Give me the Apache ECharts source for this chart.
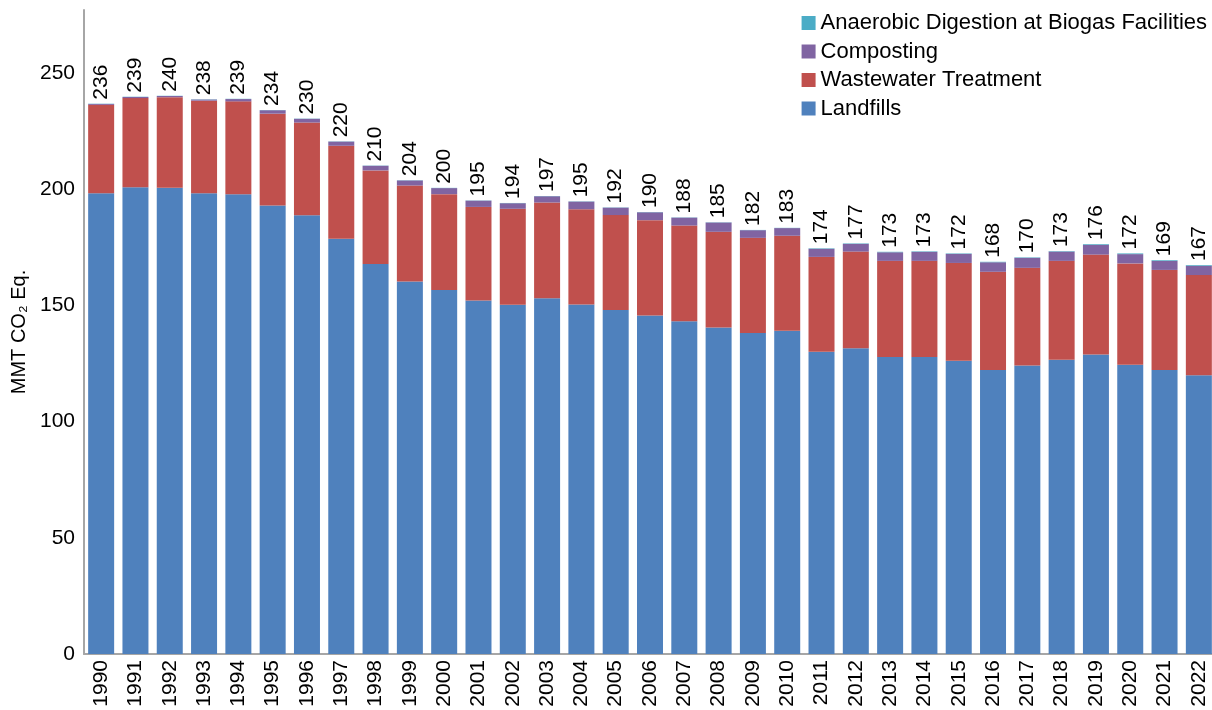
<!DOCTYPE html>
<html lang="en">
<head>
    <meta charset="UTF-8">
    <title>Waste emissions</title>
    <script src="https://cdn.jsdelivr.net/npm/echarts@6/dist/echarts.min.js"></script>
    <style>
        html, body { margin: 0; padding: 0; background: #fff; }
        #main { width: 1212px; height: 710px; }
    </style>
</head>
<body>
<div id="main"></div>
<script>
    // data (MMT CO2 Eq.)
    var years = ['1990','1991','1992','1993','1994','1995','1996','1997','1998','1999','2000',
        '2001','2002','2003','2004','2005','2006','2007','2008','2009','2010',
        '2011','2012','2013','2014','2015','2016','2017','2018','2019','2020','2021','2022'];
    var landfills = [198.2,200.8,200.5,198.2,197.8,192.9,188.7,178.6,167.8,160.2,156.6,
        152.0,150.2,153.0,150.3,148.0,145.6,143.1,140.4,138.1,139.0,
        130.0,131.5,127.8,127.7,126.1,122.2,124.1,126.6,128.8,124.4,122.2,119.9];
    var wastewater = [38.0,38.3,39.0,39.8,39.9,39.5,39.9,40.0,40.2,41.3,41.2,
        40.3,41.3,41.2,41.0,40.8,41.0,41.2,41.2,40.9,40.9,
        40.8,41.6,41.3,41.4,42.1,42.2,42.0,42.5,43.0,43.6,43.0,43.1];
    var composting = [0.4,0.5,0.5,0.5,1.0,1.5,1.6,1.8,2.0,2.2,2.6,
        2.7,2.4,2.7,3.3,3.2,3.4,3.4,4.0,3.3,3.3,
        3.5,3.3,3.7,3.9,3.9,4.1,4.3,4.0,4.2,4.0,3.9,4.0];
    var digestion = [0.1,0.1,0.1,0.1,0.1,0.1,0.1,0.1,0.1,0.1,0.1,
        0.1,0.1,0.1,0.1,0.1,0.1,0.1,0.1,0.1,0.1,
        0.2,0.2,0.2,0.2,0.2,0.2,0.2,0.2,0.3,0.3,0.3,0.3];
    var totals = [236,239,240,238,239,234,230,220,210,204,200,
        195,194,197,195,192,190,188,185,182,183,
        174,177,173,173,172,168,170,173,176,172,169,167];

    var font = 'Liberation Sans';
    var chart = echarts.init(document.getElementById('main'));

    function bar(name, data, color) {
        return {
            name: name,
            type: 'bar',
            stack: 'total',
            barWidth: 26,
            data: data,
            itemStyle: { color: color },
            emphasis: { disabled: true }
        };
    }

    var topSeries = bar('Anaerobic Digestion at Biogas Facilities', digestion, '#4bacc6');
    topSeries.label = {
        show: true,
        position: 'top',
        rotate: 90,
        align: 'left',
        verticalAlign: 'middle',
        distance: 4,
        fontFamily: font,
        fontSize: 21,
        color: '#000',
        formatter: function (p) { return totals[p.dataIndex]; }
    };

    chart.setOption({
        animation: false,
        textStyle: { fontFamily: font },
        grid: { left: 84, right: -4, top: 10, bottom: 56, containLabel: false, outerBoundsMode: 'none' },
        legend: {
            orient: 'vertical',
            right: 0,
            top: 7,
            itemWidth: 14,
            itemHeight: 14,
            itemGap: 6.5,
            icon: 'rect',
            textStyle: { fontFamily: font, fontSize: 22, color: '#000' },
            data: ['Anaerobic Digestion at Biogas Facilities', 'Composting',
                'Wastewater Treatment', 'Landfills']
        },
        xAxis: {
            type: 'category',
            data: years,
            axisLine: { lineStyle: { color: '#a6a6a6', width: 2 } },
            axisTick: { show: false },
            axisLabel: { rotate: 90, fontFamily: font, fontSize: 21, color: '#000', margin: 6 }
        },
        yAxis: {
            type: 'value',
            min: 0,
            max: 277,
            interval: 50,
            name: 'MMT CO\u2082 Eq.',
            nameLocation: 'middle',
            nameGap: 55,
            nameTextStyle: { fontFamily: font, fontSize: 20, color: '#000' },
            axisLine: { show: true, lineStyle: { color: '#a6a6a6', width: 2 } },
            axisTick: { show: false },
            splitLine: { show: false },
            axisLabel: { fontFamily: font, fontSize: 21, color: '#000', margin: 9, showMaxLabel: false }
        },
        series: [
            bar('Landfills', landfills, '#4f81bd'),
            bar('Wastewater Treatment', wastewater, '#c0504d'),
            bar('Composting', composting, '#8064a2'),
            topSeries
        ]
    });
</script>
</body>
</html>
